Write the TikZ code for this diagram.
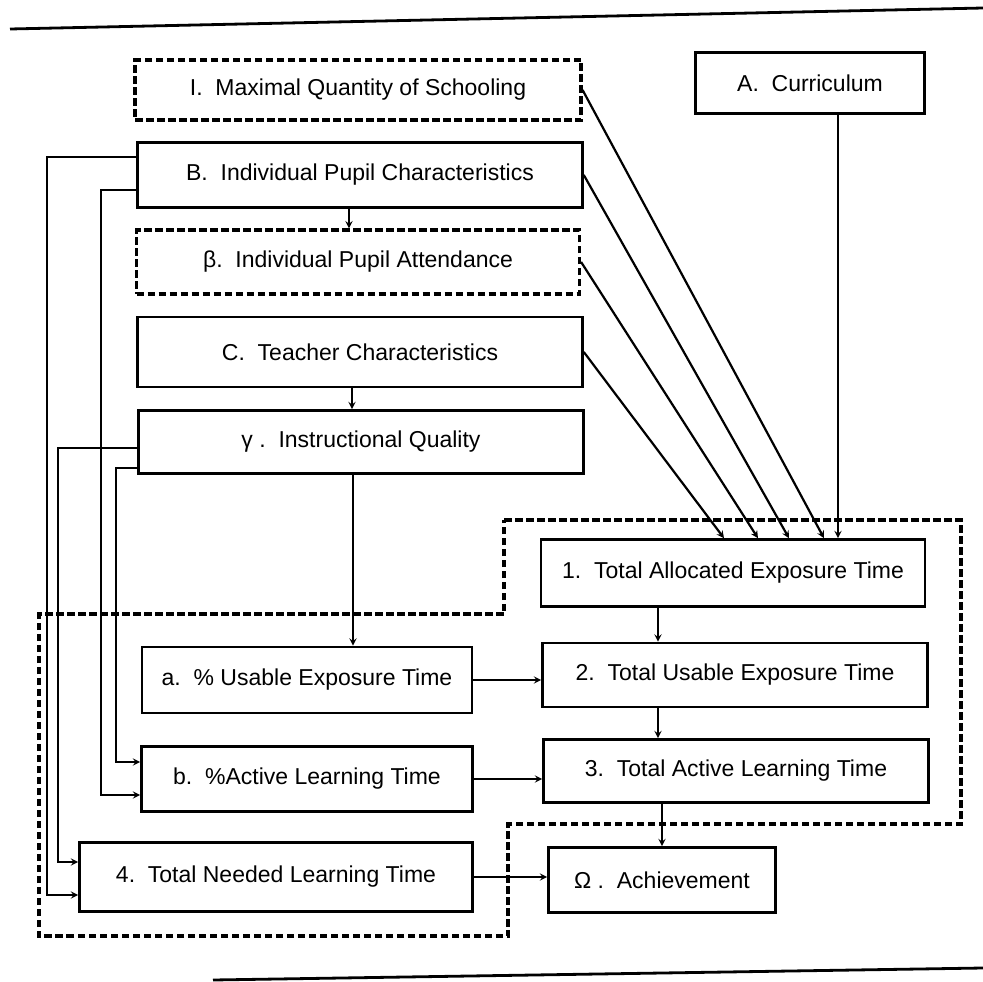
\documentclass[tikz,border=0pt]{standalone}
\usepackage{fontspec}
\setmainfont{Liberation Sans}
\usepackage{tikz}
\usetikzlibrary{arrows,positioning,calc}

\begin{document}
\begin{tikzpicture}[x=1pt,y=-1pt,
box/.style={draw,line width=2.6pt,inner sep=0pt,font=\fontsize{23}{27}\selectfont},
dashed_box/.style={box,line width=3.2pt,dash pattern=on 7.5pt off 3.5pt},
dashed_line/.style={line width=3.2pt,dash pattern=on 7.5pt off 3.5pt},
edge/.style={line width=2.2pt,->,>=stealth},
rule/.style={line width=2.8pt}]
\useasboundingbox (0,0) rectangle (983,982);
% page rules
\draw[rule] (10,29) -- (983,8);
\draw[rule] (213,980) -- (983,968);
% exogenous boxes
\node(I)[dashed_box,minimum width=446pt,minimum height=60pt] at (358,90) {I.\ \ Maximal Quantity of Schooling};
\node(A)[box,minimum width=229pt,minimum height=61pt] at (810,83) {A.\ \ Curriculum};
\node(B)[box,minimum width=445pt,minimum height=65pt] at (360,175) {B.\ \ Individual Pupil Characteristics};
\node(beta)[dashed_box,minimum width=443pt,minimum height=64pt] at (358,262) {β.\ \ Individual Pupil Attendance};
\node(C)[box,minimum width=445pt,minimum height=70pt] at (360,352) {C.\ \ Teacher Characteristics};
\node(gamma)[box,minimum width=445pt,minimum height=63pt] at (361,442) {γ .\ \ Instructional Quality};
% time boxes
\node(one)[box,minimum width=384pt,minimum height=67pt] at (733,573) {1.\ \ Total Allocated Exposure Time};
\node(a)[box,minimum width=330pt,minimum height=66pt] at (307,680) {a.\ \ \% Usable Exposure Time};
\node(two)[box,minimum width=385pt,minimum height=64pt] at (735,675) {2.\ \ Total Usable Exposure Time};
\node(b)[box,minimum width=331pt,minimum height=65pt] at (307,779) {b.\ \ \%Active Learning Time};
\node(three)[box,minimum width=385pt,minimum height=63pt] at (736,771) {3.\ \ Total Active Learning Time};
\node(four)[box,minimum width=393pt,minimum height=69pt] at (276,877) {4.\ \ Total Needed Learning Time};
\node(omega)[box,minimum width=227pt,minimum height=65pt] at (662,880) {Ω .\ \ Achievement};
% outline round the time model
\draw[dashed_line] (504,520) -- (961,520) -- (961,824) -- (508,824) -- (508,936) -- (39,936) -- (39,614) -- (504,614) -- cycle;
%\draw[edge] (I.east) -- (one.north);
\draw[edge] (I.east) -- ([xshift=91pt]one.north);
\draw[edge] (B.east) -- ([xshift=56pt]one.north);
\draw[edge] (beta.east) -- ([xshift=25pt]one.north);
\draw[edge] (C.east) -- ([xshift=-9pt]one.north);
\draw[edge] ([xshift=28pt]A.south) -- ([xshift=28pt]A.south |- one.north);
\draw[edge] ([xshift=-11pt]B.south) -- ([xshift=-11pt]B.south |- beta.north);
\draw[edge] ([xshift=-8pt]C.south) -- ([xshift=-8pt]C.south |- gamma.north);
\draw[edge] ([xshift=-8pt]gamma.south) -- ([xshift=-8pt]gamma.south |- a.north);
\draw[edge] ([xshift=-75pt]one.south) -- ([xshift=-75pt]one.south |- two.north);
\draw[edge] ([xshift=-77pt]two.south) -- ([xshift=-77pt]two.south |- three.north);
\draw[edge] (omega.north |- three.south) -- (omega.north);
\draw[edge] (a.east) -- (a.east -| two.west);
\draw[edge] (b.east) -- (b.east -| three.west);
\draw[edge] (four.east) -- (four.east -| omega.west);
\draw[edge] ([yshift=18pt]B.west) -- ++(-89,0) |- ([yshift=-18pt]four.west);
\draw[edge] ([yshift=-15pt]B.west) -- ++(-35,0) |- ([yshift=-16pt]b.west);
\draw[edge] ([yshift=-6pt]gamma.west) -- ++(-79,0) |- ([yshift=15pt]four.west);
\draw[edge] ([yshift=-26pt]gamma.west) -- ++(-21,0) |- ([yshift=17pt]b.west);
\end{tikzpicture}
\end{document}
